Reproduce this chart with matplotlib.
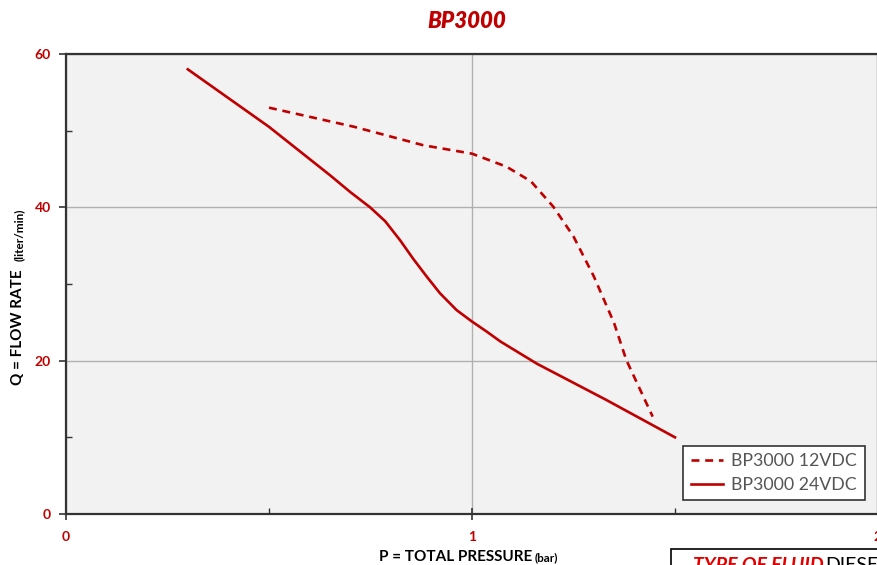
import matplotlib.pyplot as plt
from matplotlib.ticker import MultipleLocator

# Data (P in bar, Q in liter/min)
p_12vdc = [0.50, 0.71, 0.88, 1.00, 1.085, 1.145, 1.20, 1.25, 1.30, 1.35, 1.38, 1.445]
q_12vdc = [53.0, 50.5, 48.1, 47.0, 45.3, 43.4, 40.1, 36.2, 31.0, 24.9, 20.1, 12.7]

p_24vdc = [0.30, 0.50, 0.65, 0.70, 0.749, 0.786, 0.823, 0.855, 0.888, 0.921, 0.962, 1.00,
           1.036, 1.07, 1.16, 1.33, 1.50]
q_24vdc = [58.0, 50.5, 44.2, 42.0, 40.0, 38.2, 35.7, 33.3, 31.0, 28.8, 26.6, 25.1,
           23.8, 22.5, 19.6, 14.9, 10.0]

x_ticks = [0, 1, 2]
y_ticks = [0, 20, 40, 60]

RED = '#c00000'
DARK = '#333333'

plt.rcParams['font.family'] = ['Lato', 'DejaVu Sans']

fig = plt.figure(figsize=(8.77, 5.65), dpi=100)
ax = fig.add_axes([66 / 877, 51 / 565, 812 / 877, 460 / 565])
ax.set_facecolor('#f2f2f2')

ax.plot(p_12vdc, q_12vdc, color=RED, lw=1.9, dashes=(3, 2.2), label='BP3000 12VDC')
ax.plot(p_24vdc, q_24vdc, color=RED, lw=1.9, label='BP3000 24VDC')

ax.set_xlim(0, 2)
ax.set_ylim(0, 60)
ax.set_xticks(x_ticks)
ax.set_yticks(y_ticks)
ax.xaxis.set_minor_locator(MultipleLocator(0.5))
ax.yaxis.set_minor_locator(MultipleLocator(10))

ax.grid(True, which='major', color='#b0b0b0', lw=1.0)
ax.set_axisbelow(True)

for side in ['left', 'bottom', 'top', 'right']:
    ax.spines[side].set_color(DARK)
    ax.spines[side].set_linewidth(1.6)

ax.tick_params(axis='y', which='major', direction='out', length=5, width=1.2, color=DARK,
               labelcolor=RED, labelsize=10, pad=6)
ax.tick_params(axis='x', which='major', direction='inout', length=8, width=1.2, color=DARK,
               labelcolor=RED, labelsize=10, pad=8)
ax.tick_params(which='minor', direction='in', length=4, width=1.0, color=DARK)
for lbl in ax.get_xticklabels() + ax.get_yticklabels():
    lbl.set_fontweight('bold')

leg = ax.legend(loc='lower left', bbox_to_anchor=(0.76, 0.03), fontsize=12.8,
                frameon=True, fancybox=False, handlelength=1.8, borderpad=0.42,
                labelspacing=0.42, handletextpad=0.5, borderaxespad=0.0)
leg.get_frame().set_edgecolor(DARK)
leg.get_frame().set_linewidth(1.2)
leg.get_frame().set_facecolor('white')
leg.get_frame().set_alpha(1)
for t in leg.get_texts():
    t.set_color('#555555')

# title
fig.text(467 / 877, 1 - 22 / 565, 'BP3000', color=RED, fontsize=16, fontweight='heavy',
         fontstyle='italic', ha='center', va='center')

# axis labels
fig.text(532 / 877, 1 - 557 / 565, 'P = TOTAL PRESSURE', color='black', fontsize=11,
         fontweight='bold', ha='right', va='center')
fig.text(535 / 877, 1 - 558 / 565, '(bar)', color='black', fontsize=8.5,
         fontweight='bold', ha='left', va='center')
fig.text(18 / 877, 1 - 327 / 565, 'Q = FLOW RATE', color='black', fontsize=11,
         fontweight='bold', ha='center', va='center', rotation=90)
fig.text(19 / 877, 1 - 235 / 565, '(liter/min)', color='black', fontsize=8.5,
         fontweight='bold', ha='center', va='center', rotation=90)

# fluid box, cut off at the bottom
fig.patches.append(plt.Rectangle((671 / 877, -0.05), 0.3, 0.05 + 16 / 565,
                                 transform=fig.transFigure, facecolor='white',
                                 edgecolor='black', lw=1.2))
fig.text(693 / 877, 1 - 557 / 565, 'TYPE OF FLUID', color='#e00000', fontsize=14,
         fontweight='bold', fontstyle='italic', ha='left', va='top')
fig.text(825 / 877, 1 - 557 / 565, 'DIESEL', color='black', fontsize=14,
         ha='left', va='top')

fig.savefig('out.png', dpi=100)
